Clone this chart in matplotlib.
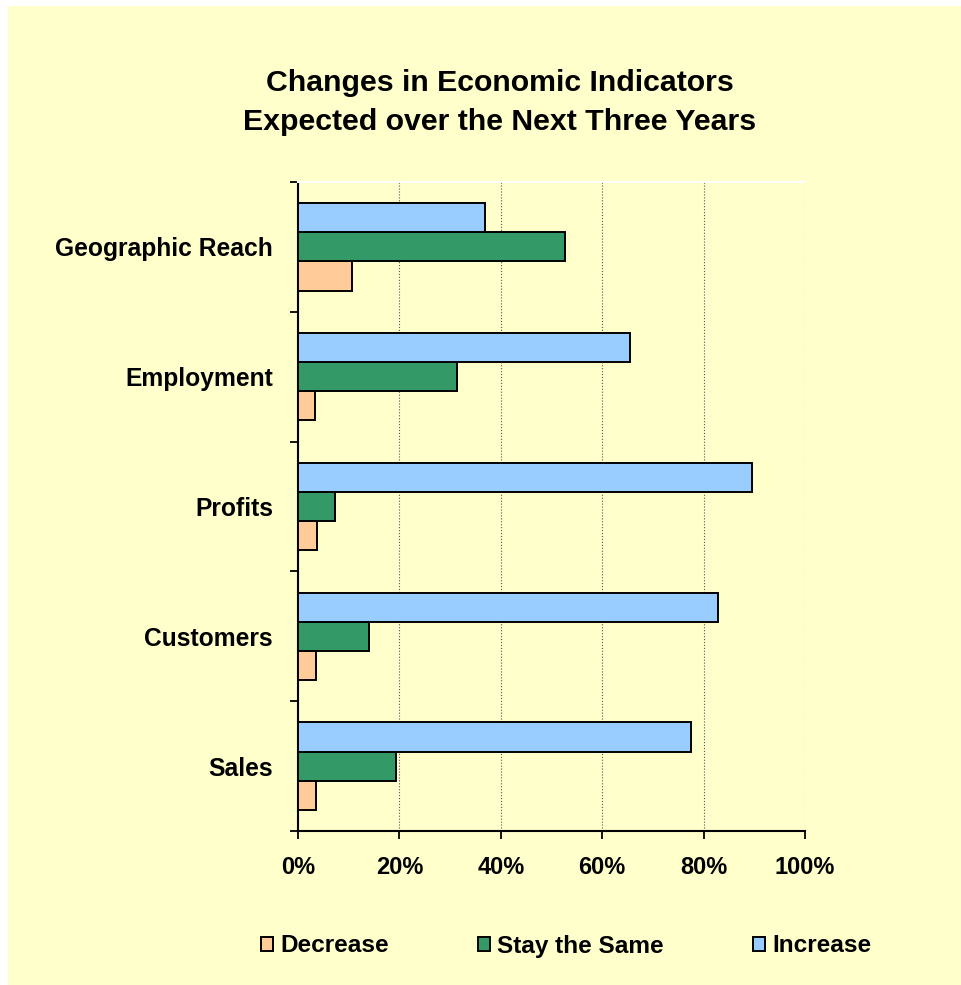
import numpy as np
import matplotlib
matplotlib.use("Agg")
import matplotlib.pyplot as plt
from matplotlib.patches import Rectangle

plt.rcParams['font.family'] = ['Liberation Sans', 'DejaVu Sans']
plt.rcParams['font.weight'] = 'bold'

categories = ['Sales', 'Customers', 'Profits', 'Employment', 'Geographic Reach']
decrease = [3.5, 3.5, 3.8, 3.4, 10.6]
stay_same = [19.3, 14.0, 7.2, 31.3, 52.7]
increase = [77.6, 82.9, 89.6, 65.5, 36.9]

series_names = ['Decrease', 'Stay the Same', 'Increase']
series_colors = ['#FFCC99', '#339966', '#99CCFF']
x_ticks = [0, 20, 40, 60, 80, 100]
x_labels = ['0%', '20%', '40%', '60%', '80%', '100%']
title_lines = ['Changes in Economic Indicators',
               'Expected over the Next Three Years']

bg = '#FFFFCC'
W, H = 961, 985
fig = plt.figure(figsize=(W / 100, H / 100), dpi=100)
fig.patch.set_facecolor('white')
# yellow chart area inside a thin white margin
fig.patches.append(Rectangle((8 / W, 0), 1 - 8 / W, 1 - 6 / H,
                             transform=fig.transFigure, facecolor=bg,
                             edgecolor='none', zorder=-10))

ax = fig.add_axes([298 / W, (H - 831) / H, 507 / W, 649 / H])
ax.set_facecolor(bg)

y = np.arange(len(categories))
h = 0.224
for vals, off, name, col in zip([decrease, stay_same, increase], [-h, 0, h],
                                series_names, series_colors):
    ax.barh(y + off, vals, height=h, color=col, edgecolor='black',
            linewidth=1.4, label=name, zorder=3)

ax.set_xlim(0, 100)
ax.set_ylim(-0.5, len(categories) - 0.5)
ax.set_xticks(x_ticks)
ax.set_xticklabels(x_labels, fontsize=17, fontweight='bold')
ax.set_yticks(y)
ax.set_yticklabels(categories, fontsize=17.7, fontweight='bold')
ax.tick_params(axis='y', which='major', length=0, pad=18)
ax.set_yticks(np.arange(-0.5, len(categories)), minor=True)
ax.tick_params(axis='y', which='minor', length=6, width=1.3, direction='out')
ax.tick_params(axis='x', length=6, width=1.3, direction='out', pad=12)

ax.grid(axis='x', color='#555555', linestyle=':', linewidth=0.8, zorder=0)
ax.spines['left'].set_linewidth(1.5)
ax.spines['bottom'].set_linewidth(1.5)
ax.spines['top'].set_color('white')
ax.spines['top'].set_linewidth(1.5)
ax.spines['right'].set_visible(False)

# two title lines placed by baseline
for line, base in zip(title_lines, [91, 130]):
    fig.text(500 / W, 1 - base / H, line, ha='center', va='baseline',
             fontsize=21.8, fontweight='bold')

handles, labels = ax.get_legend_handles_labels()
fig.legend(handles, labels, loc='center', ncol=3,
           bbox_to_anchor=(566 / W, 1 - 946 / H), frameon=False,
           prop={'size': 17.6, 'weight': 'bold'}, handlelength=0.48,
           handleheight=0.48, handletextpad=0.3, columnspacing=3.65,
           borderpad=0)

fig.savefig('out.png', dpi=100, facecolor=fig.get_facecolor())
